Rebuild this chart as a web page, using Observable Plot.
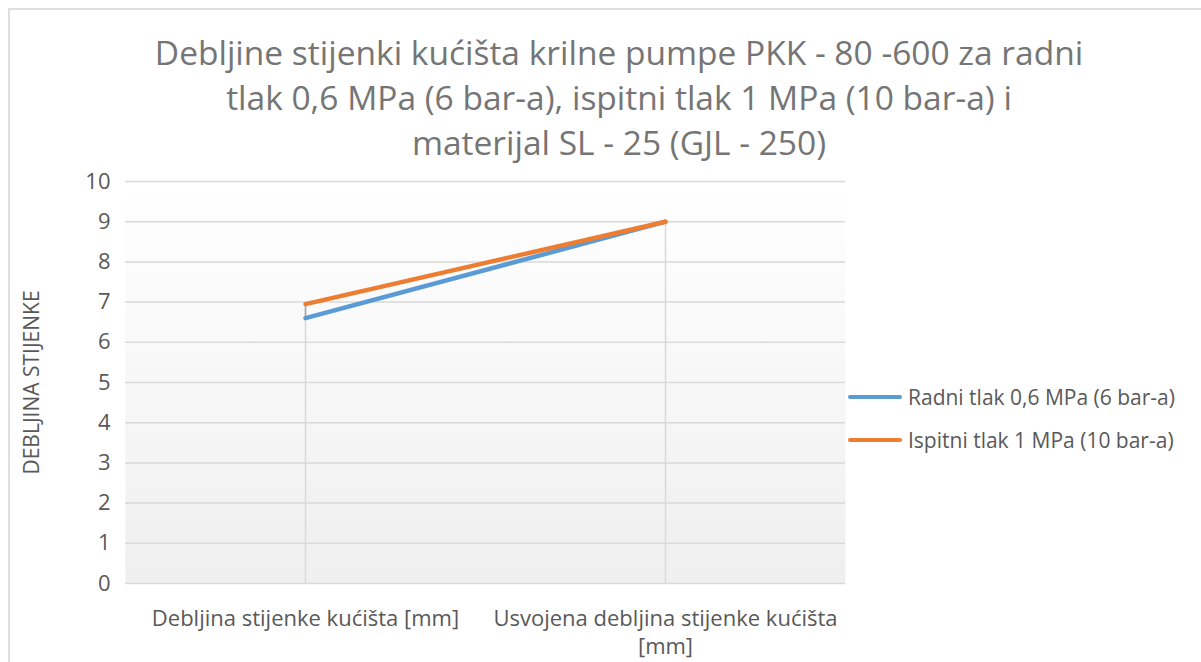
<!DOCTYPE html>
<html>
<head>
<meta charset="utf-8">
<script src="https://cdn.jsdelivr.net/npm/d3@7"></script>
<script src="https://cdn.jsdelivr.net/npm/@observablehq/plot@0.6"></script>
<style>
  html, body { margin: 0; padding: 0; background: #ffffff; overflow: hidden; }
  body { width: 1201px; height: 662px; position: relative; font-family: "Open Sans", sans-serif; color: #595959; }
  #frame { position: absolute; left: 8px; top: 8px; width: 1300px; height: 800px; border: 2px solid #dedede; box-sizing: border-box; }
  #title { position: absolute; left: 0; top: 30px; width: 1238px; text-align: center; font-size: 33.5px; line-height: 45px; color: #757575; white-space: nowrap; }
  #chart { position: absolute; left: 0; top: 170px; }
  .leg { position: absolute; left: 848px; height: 30px; display: flex; align-items: center; font-size: 21px; line-height: 30px; color: #595959; white-space: nowrap; }
  .sw { display: inline-block; width: 54px; height: 4px; border-radius: 2px; margin-right: 6px; }
</style>
</head>
<body>
<div id="frame"></div>
<div id="title"></div>
<div id="chart"></div>
<div id="legend"></div>
<script>
const titleLines = [
  "Debljine stijenki kućišta krilne pumpe PKK - 80 -600 za radni",
  "tlak 0,6 MPa (6 bar-a), ispitni tlak 1 MPa (10 bar-a) i",
  "materijal SL - 25 (GJL - 250)"
];
const categories = ["Debljina stijenke kućišta [mm]", "Usvojena debljina stijenke kućišta [mm]"];
const categoryLabels = ["Debljina stijenke kućišta [mm]", "Usvojena debljina stijenke kućišta\n[mm]"];
const seriesNames = ["Radni tlak 0,6 MPa (6 bar-a)", "Ispitni tlak 1 MPa (10 bar-a)"];
const seriesColors = ["#5b9bd5", "#ed7d31"];
const radniValues = [6.6, 9];
const ispitniValues = [6.95, 9];
const yTicks = [0, 1, 2, 3, 4, 5, 6, 7, 8, 9, 10];
const yLabel = "DEBLJINA STIJENKE";

const seriesValues = [radniValues, ispitniValues];
const long = seriesNames.flatMap((s, si) => categories.map((c, ci) => ({category: c, series: s, value: seriesValues[si][ci]})));
const ranges = categories.map((c, ci) => {
  const vals = seriesValues.map(v => v[ci]);
  return {category: c, lo: Math.min(...vals), hi: Math.max(...vals)};
});

document.getElementById("title").innerHTML = titleLines.map(t => `<div>${t}</div>`).join("");

const chart = Plot.plot({
  width: 1201,
  height: 492,
  marginTop: 11,
  marginBottom: 79,
  marginLeft: 125,
  marginRight: 356,
  style: {fontFamily: "'Open Sans', sans-serif", fontSize: "22px", color: "#595959", background: "transparent", overflow: "visible"},
  x: {type: "point", domain: categories, padding: 0.5},
  y: {domain: [0, 10]},
  color: {domain: seriesNames, range: seriesColors},
  marks: [
    Plot.frame({fill: "url(#plotBg)", stroke: "none"}),
    Plot.gridY(yTicks, {stroke: "#d9d9d9", strokeOpacity: 1, strokeWidth: 1.5}),
    Plot.ruleX(ranges, {x: "category", y1: 0, y2: "hi", stroke: "#d9d9d9", strokeWidth: 1.5}),
    Plot.ruleX(ranges, {x: "category", y1: "lo", y2: "hi", stroke: "#a5a5a5", strokeWidth: 1.5}),
    Plot.line(long, {x: "category", y: "value", z: "series", stroke: "series", strokeWidth: 4.5, strokeLinecap: "round", strokeLinejoin: "round"}),
    Plot.axisY(yTicks, {tickSize: 0, tickPadding: 15, label: null}),
    Plot.axisX({tickSize: 0, tickPadding: 23, tickFormat: d => categoryLabels[categories.indexOf(d)], lineHeight: 1.25, label: null}),
    Plot.text([yLabel], {frameAnchor: "left", dx: -93, rotate: -90, textAnchor: "middle", fontSize: 21, fill: "#595959"})
  ]
});

const defs = d3.select(chart).insert("defs", ":first-child");
const grad = defs.append("linearGradient").attr("id", "plotBg").attr("x1", 0).attr("y1", 0).attr("x2", 0).attr("y2", 1);
grad.append("stop").attr("offset", "0%").attr("stop-color", "#ffffff");
grad.append("stop").attr("offset", "100%").attr("stop-color", "#efefef");

document.getElementById("chart").appendChild(chart);

const legendTops = [382, 425];
document.getElementById("legend").innerHTML = seriesNames.map((s, i) =>
  `<div class="leg" style="top:${legendTops[i]}px"><span class="sw" style="background:${seriesColors[i]}"></span><span>${s}</span></div>`
).join("");
</script>
</body>
</html>
